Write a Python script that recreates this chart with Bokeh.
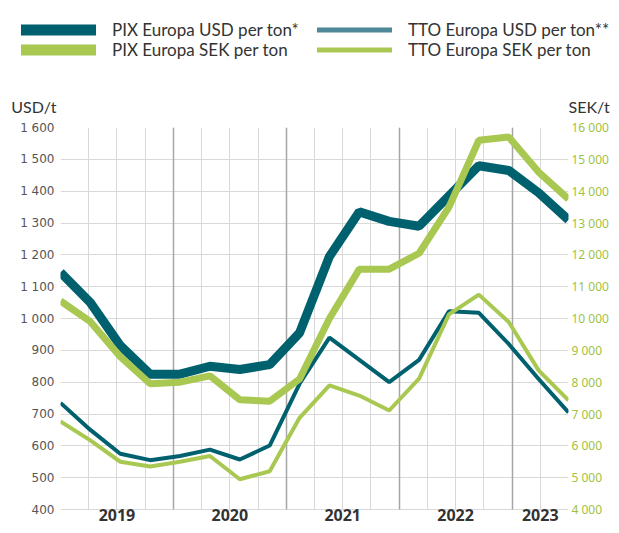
from bokeh.plotting import figure
from bokeh.layouts import column
from bokeh.core.properties import value
from bokeh.models import (Range1d, LinearAxis, FixedTicker, Grid, Legend, LegendItem,
                          Label, LabelSet, ColumnDataSource)
from bokeh.embed import file_html
from bokeh.resources import INLINE

# ---------------- data ----------------
years = ["2019", "2020", "2021", "2022", "2023"]
quarters_per_year = [4, 4, 4, 4, 2]

pix_usd = [1145, 1050, 915, 825, 825, 850, 840, 855, 955, 1195, 1335, 1305, 1290, 1385, 1480, 1465, 1395, 1310]
tto_usd = [735, 650, 575, 555, 568, 588, 557, 601, 795, 940, 870, 800, 870, 1023, 1018, 920, 810, 705]
pix_sek = [10550, 9900, 8800, 7950, 8000, 8200, 7450, 7400, 8100, 10000, 11550, 11550, 12050, 13500, 15600, 15700, 14600, 13750]
tto_sek = [6770, 6170, 5500, 5350, 5500, 5680, 4950, 5200, 6880, 7900, 7580, 7110, 8110, 10130, 10750, 9890, 8370, 7430]

usd_ticks = list(range(400, 1601, 100))
sek_ticks = list(range(4000, 16001, 1000))
sek_per_usd_axis = 10

series_labels = ["PIX Europa USD per ton*", "TTO Europa USD per ton**",
                 "PIX Europa SEK per ton", "TTO Europa SEK per ton"]
unit_labels = ["USD/t", "SEK/t"]

# ---------------- styles / layout ----------------
TEAL = "#00616e"
TEAL_LEG = "#4e8797"
GREEN = "#a9c852"
GREEN_TXT = "#9fc243"
TXT = "#333333"
GRID_MINOR = "#d9d9d9"
GRID_MAJOR = "#a6a6a6"

W, H = 611, 525
HEAD_H = 115
MAIN_H = H - HEAD_H
FRAME_TOP = 127 - HEAD_H
PLOT_PX = 382
BELOW_PX = MAIN_H - FRAME_TOP - PLOT_PX

n_slots = sum(quarters_per_year)
n_pts = len(pix_usd)
xs = [i * n_slots / (n_pts - 1) for i in range(n_pts)]
starts = [sum(quarters_per_year[:k]) for k in range(len(years))]
centers = [s + q / 2 for s, q in zip(starts, quarters_per_year)]

y_top = usd_ticks[-1]
y_400 = usd_ticks[0]
y_lo = y_400 - BELOW_PX * (y_top - y_400) / PLOT_PX

# ---------------- header (legend + units) ----------------
head = figure(width=W, height=HEAD_H, x_range=Range1d(0, W), y_range=Range1d(0, HEAD_H),
              output_backend="svg", toolbar_location=None,
              x_axis_location=None, y_axis_location=None, frame_align=False,
              min_border_left=0, min_border_right=0, min_border_top=0, min_border_bottom=0)
head.outline_line_color = None
head.grid.visible = False

nan_src = ColumnDataSource(dict(x=[float("nan")], y=[float("nan")]))
lg_pu = head.line("x", "y", source=nan_src, line_color=TEAL, line_width=11, line_cap="round")
lg_tu = head.line("x", "y", source=nan_src, line_color=TEAL_LEG, line_width=5, line_cap="round")
lg_ps = head.line("x", "y", source=nan_src, line_color=GREEN, line_width=11, line_cap="round")
lg_ts = head.line("x", "y", source=nan_src, line_color=GREEN, line_width=5, line_cap="round")

leg_style = dict(orientation="horizontal", glyph_width=75, glyph_height=21,
                 label_height=21, label_width=205, label_standoff=16, spacing=0,
                 padding=0, margin=0, border_line_color=None, background_fill_alpha=0,
                 label_text_font="Lato", label_text_font_size="17px", label_text_color=TXT)
leg_usd = Legend(items=[LegendItem(label=series_labels[0], renderers=[lg_pu]),
                        LegendItem(label=series_labels[1], renderers=[lg_tu])],
                 location=(21, 75), **leg_style)
leg_sek = Legend(items=[LegendItem(label=series_labels[2], renderers=[lg_ps]),
                        LegendItem(label=series_labels[3], renderers=[lg_ts])],
                 location=(21, 55), **leg_style)
head.add_layout(leg_usd)
head.add_layout(leg_sek)

head.add_layout(Label(x=10.7, y=HEAD_H - 106, text=unit_labels[0], text_font="Lato",
                      text_font_size="16px", text_color=TXT, text_baseline="alphabetic"))
head.add_layout(Label(x=568, y=HEAD_H - 106, text=unit_labels[1], text_font="Lato",
                      text_font_size="16px", text_color=TXT, text_baseline="alphabetic"))

# ---------------- main chart ----------------
p = figure(width=W, height=MAIN_H, x_range=Range1d(0, n_slots), y_range=Range1d(y_lo, y_top),
           output_backend="svg", toolbar_location=None, x_axis_location=None,
           frame_align=False,
           min_border_left=60, min_border_right=W - 568, min_border_top=FRAME_TOP,
           min_border_bottom=0)
p.outline_line_color = None
p.background_fill_color = "white"
p.xgrid.visible = False

# grids
p.ygrid.ticker = FixedTicker(ticks=usd_ticks)
p.ygrid.grid_line_color = GRID_MINOR
p.add_layout(Grid(dimension=0, ticker=FixedTicker(ticks=list(range(n_slots + 1))),
                  cross_bounds=(y_400, y_top), grid_line_color=GRID_MINOR))
p.add_layout(Grid(dimension=0, ticker=FixedTicker(ticks=starts),
                  cross_bounds=(y_400, y_top), grid_line_color=GRID_MAJOR,
                  grid_line_width=1.5))

# left axis
ya = p.yaxis[0]
ya.ticker = FixedTicker(ticks=usd_ticks)
ya.major_label_overrides = {t: f"{t:,}".replace(",", " ") for t in usd_ticks}
ya.axis_line_color = None
ya.major_tick_line_color = None
ya.minor_tick_line_color = None
ya.major_tick_out = 0
ya.major_tick_in = 0
ya.minor_tick_out = 0
ya.major_label_standoff = 6
ya.major_label_text_font = "DejaVu Sans"
ya.major_label_text_font_size = "12px"
ya.major_label_text_color = "#555555"

# empty spacer axis on the outer side, so the tick labels sit next to the frame
pad_axis = LinearAxis(ticker=FixedTicker(ticks=[]), axis_line_color=None,
                      major_tick_line_color=None, minor_tick_line_color=None,
                      major_tick_out=13, major_tick_in=0, minor_tick_out=0,
                      minor_tick_in=0, major_label_standoff=0)
p.left = [pad_axis] + list(p.left)

# right axis
p.extra_y_ranges = {"sek": Range1d(y_lo * sek_per_usd_axis, y_top * sek_per_usd_axis)}
ra = LinearAxis(y_range_name="sek", ticker=FixedTicker(ticks=sek_ticks))
ra.major_label_overrides = {t: f"{t:,}".replace(",", " ") for t in sek_ticks}
ra.axis_line_color = None
ra.major_tick_line_color = None
ra.minor_tick_line_color = None
ra.major_tick_out = 0
ra.major_tick_in = 0
ra.minor_tick_out = 0
ra.major_label_standoff = 3
ra.major_label_text_font = "Noto Sans"
ra.major_label_text_font_size = "12px"
ra.major_label_text_color = GREEN_TXT
p.add_layout(ra, "right")

# series
src = ColumnDataSource(dict(x=xs, pix_usd=pix_usd, tto_usd=tto_usd,
                            pix_sek=pix_sek, tto_sek=tto_sek))
p.line("x", "pix_usd", source=src, line_color=TEAL, line_width=9)
p.line("x", "tto_usd", source=src, line_color=TEAL, line_width=4)
p.line("x", "pix_sek", source=src, y_range_name="sek", line_color=GREEN, line_width=7)
p.line("x", "tto_sek", source=src, y_range_name="sek", line_color=GREEN, line_width=4)

# year labels
ysrc = ColumnDataSource(dict(x=centers, text=years))
p.add_layout(LabelSet(x="x", y=5, y_units="screen", text="text", source=ysrc,
                      text_align="center", text_baseline="alphabetic",
                      text_font=value("Open Sans"), text_font_style="bold",
                      text_font_size="16px", text_color=TXT))

layout = column(head, p, spacing=0)
open("out.html", "w").write(file_html(layout, INLINE))
